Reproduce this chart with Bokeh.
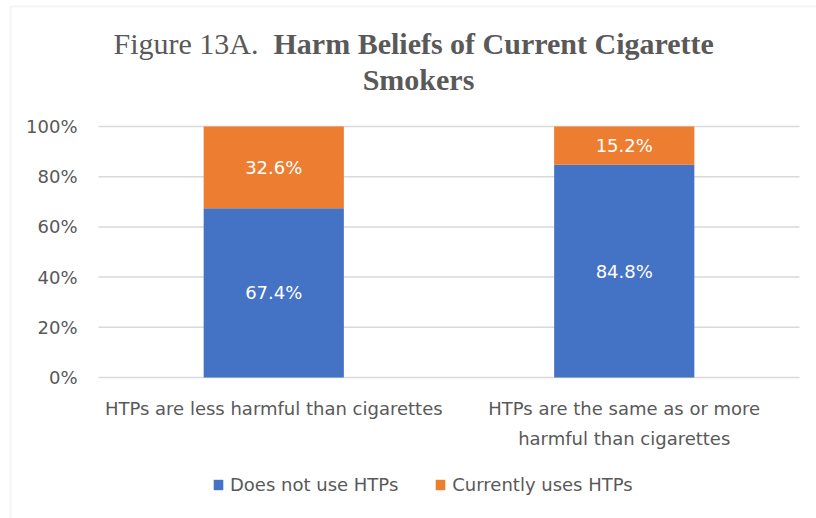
from bokeh.plotting import figure
from bokeh.models import Range1d, Legend, LegendItem, BoxAnnotation, ColumnDataSource
from bokeh.core.properties import value
from bokeh.embed import file_html
from bokeh.resources import INLINE

# --- data -------------------------------------------------------------
categories = ["HTPs are less harmful than cigarettes",
              "HTPs are the same as or more\nharmful than cigarettes"]
series_names = ["Does not use HTPs", "Currently uses HTPs"]
does_not_use = [67.4, 84.8]
currently_uses = [32.6, 15.2]
y_ticks = [0, 20, 40, 60, 80, 100]

# --- style ------------------------------------------------------------
BLUE = "#4472C4"
ORANGE = "#ED7D31"
GRAY_TEXT = "#595959"
GRID = "#d9d9d9"
SANS = "DejaVu Sans"
SANS_SIZE = "18px"
SERIF = "Liberation Serif"

W, H = 816, 518
# pixel box of the plotting area; the canvas is one large frame and the
# ranges below are chosen so that the data area lands inside this box
PL, PR, PT, PB = 98, 799, 126, 377
N = len(categories)
Y_MAX = 100


def xd(px):
    return (px - PL) * N / (PR - PL)


def yd(py):
    return (PB - py) * Y_MAX / (PB - PT)


p = figure(width=W, height=H, output_backend="svg", toolbar_location=None,
           x_range=Range1d(xd(0), xd(W)), y_range=Range1d(yd(H), yd(0)),
           x_axis_type=None, y_axis_type=None, min_border=0)
p.outline_line_color = None
p.xgrid.visible = False
p.ygrid.visible = False
p.background_fill_color = "white"
p.border_fill_color = "white"

cat_x = [i + 0.5 for i in range(N)]

# horizontal gridlines at the y ticks, across the category span
p.segment(x0=[0] * len(y_ticks), x1=[N] * len(y_ticks), y0=y_ticks, y1=y_ticks,
          line_color=GRID, line_width=1.5)

# stacked bars
src = ColumnDataSource(dict(x=cat_x, no=does_not_use, yes=currently_uses))
bars = p.vbar_stack(["no", "yes"], x="x", width=0.4, source=src,
                    fill_color=[BLUE, ORANGE], line_color=None)

# value labels centred in each segment
lab_x, lab_y, lab_t = [], [], []
for c, a, b in zip(cat_x, does_not_use, currently_uses):
    lab_x += [c, c]
    lab_y += [a / 2, a + b / 2]
    lab_t += [f"{a:.1f}%", f"{b:.1f}%"]
p.text(x=lab_x, y=lab_y, text=lab_t, text_align="center", text_baseline="middle",
       text_color="white", text_font=value(SANS), text_font_size=SANS_SIZE)

# y tick labels
p.text(x=[xd(77)] * len(y_ticks), y=y_ticks, text=[f"{t}%" for t in y_ticks],
       text_align="right", text_baseline="middle", text_color=GRAY_TEXT,
       text_font=value(SANS), text_font_size=SANS_SIZE)

# category labels under the bars
p.text(x=cat_x, y=[yd(397)] * N, text=categories, text_align="center",
       text_baseline="top", text_line_height=1.45, text_color=GRAY_TEXT,
       text_font=value(SANS), text_font_size=SANS_SIZE)

# two-line title, first part regular and the rest bold
title_kw = dict(text_color=GRAY_TEXT, text_font=value(SERIF), text_font_size="30px",
                text_baseline="alphabetic")
p.text(x=[xd(258)], y=[yd(43)], text=["Figure 13A."], text_align="right", **title_kw)
p.text(x=[xd(273)], y=[yd(43)], text=["Harm Beliefs of Current Cigarette"],
       text_align="left", text_font_style="bold", **title_kw)
p.text(x=[xd(418)], y=[yd(79)], text=["Smokers"], text_align="center",
       text_font_style="bold", **title_kw)

# legend below the categories
legend = Legend(items=[LegendItem(label=n, renderers=[r]) for n, r in zip(series_names, bars)],
                orientation="horizontal", location=(212, H - 495),
                glyph_width=12, glyph_height=13, label_standoff=6, spacing=36,
                padding=0, margin=0, border_line_color=None, background_fill_alpha=0,
                label_text_font=SANS, label_text_font_size=SANS_SIZE,
                label_text_color=GRAY_TEXT)
p.add_layout(legend)

# chart area border (runs off the right and bottom edges)
p.add_layout(BoxAnnotation(left=xd(10), right=xd(W + 20), top=yd(6), bottom=yd(H + 20),
                           fill_alpha=0, line_color=GRID, line_width=2))

open("out.html", "w").write(file_html(p, INLINE))
